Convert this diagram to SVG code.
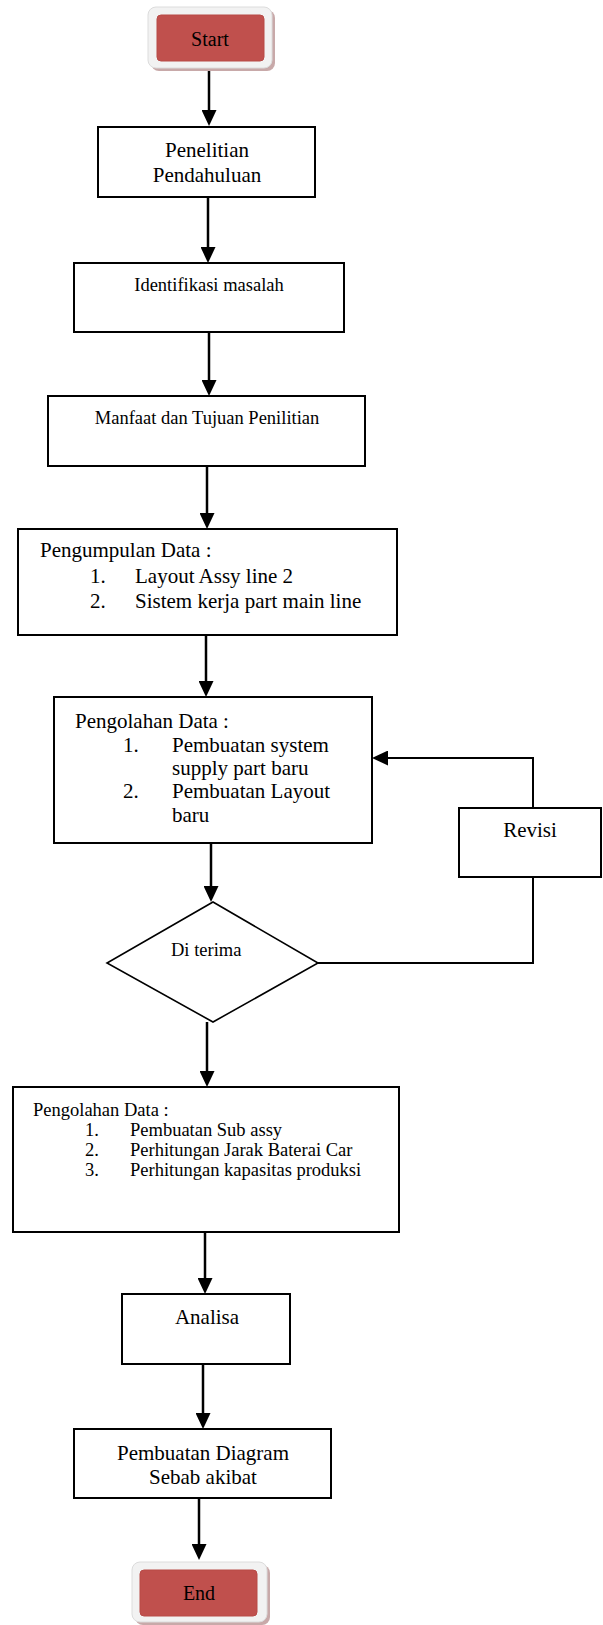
<svg xmlns="http://www.w3.org/2000/svg" width="603" height="1625" viewBox="0 0 603 1625">
<style>
text{font-family:"Liberation Serif","Times New Roman",serif;fill:#000}
.box{fill:#fff;stroke:#000;stroke-width:2}
.dia{fill:#fff;stroke:#000;stroke-width:1.6}
.conn{fill:none;stroke:#000;stroke-width:2.5}
.loop{fill:none;stroke:#000;stroke-width:2}
.shadow{fill:#c8a9a9}
.frame{fill:#f2f2f2;stroke:#dcdcdc;stroke-width:1}
.red{fill:#c0504d;stroke:#b84a47;stroke-width:1}
.f21{font-size:21px}
.f18{font-size:18.5px}
.f20{font-size:20px}
.mid{text-anchor:middle}
</style>
<defs>
<marker id="ah" markerUnits="userSpaceOnUse" viewBox="0 0 16 15" markerWidth="16" markerHeight="15" refX="6" refY="7.5" orient="auto">
<path d="M0,0 L16,7.5 L0,15 z" fill="#000"/>
</marker>
</defs>

<g id="connectors">
<line class="conn" x1="209" y1="68" x2="209" y2="116" marker-end="url(#ah)"/>
<line class="conn" x1="208" y1="197" x2="208" y2="253" marker-end="url(#ah)"/>
<line class="conn" x1="209" y1="332" x2="209" y2="386" marker-end="url(#ah)"/>
<line class="conn" x1="207" y1="466" x2="207" y2="519" marker-end="url(#ah)"/>
<line class="conn" x1="206" y1="635" x2="206" y2="687" marker-end="url(#ah)"/>
<line class="conn" x1="211" y1="843" x2="211" y2="892" marker-end="url(#ah)"/>
<polyline class="loop" points="318,963 533,963 533,877"/>
<polyline class="loop" points="533,808 533,758 382,758" marker-end="url(#ah)"/>
<line class="conn" x1="207" y1="1022" x2="207" y2="1077" marker-end="url(#ah)"/>
<line class="conn" x1="205" y1="1232" x2="205" y2="1284" marker-end="url(#ah)"/>
<line class="conn" x1="203" y1="1364" x2="203" y2="1419" marker-end="url(#ah)"/>
<line class="conn" x1="199" y1="1498" x2="199" y2="1550" marker-end="url(#ah)"/>
</g>

<g id="start">
<rect class="shadow" x="151" y="10" width="124" height="61" rx="8"/>
<rect class="frame" x="148" y="7" width="124" height="61" rx="8"/>
<rect class="red" x="157" y="15" width="107" height="46" rx="4"/>
<text class="f20 mid" x="210" y="46">Start</text>
</g>

<g id="penelitian">
<rect class="box" x="98" y="127" width="217" height="70"/>
<text class="f21 mid" x="207" y="157">Penelitian</text>
<text class="f21 mid" x="207" y="182">Pendahuluan</text>
</g>

<g id="identifikasi">
<rect class="box" x="74" y="263" width="270" height="69"/>
<text class="f18 mid" x="209" y="291">Identifikasi masalah</text>
</g>

<g id="manfaat">
<rect class="box" x="48" y="396" width="317" height="70"/>
<text class="f18 mid" x="207" y="424">Manfaat dan Tujuan Penilitian</text>
</g>

<g id="pengumpulan">
<rect class="box" x="18" y="529" width="379" height="106"/>
<text class="f21" x="40" y="557">Pengumpulan Data :</text>
<text class="f21" x="90" y="583">1.</text>
<text class="f21" x="135" y="583">Layout Assy line 2</text>
<text class="f21" x="90" y="608">2.</text>
<text class="f21" x="135" y="608">Sistem kerja part main line</text>
</g>

<g id="pengolahan1">
<rect class="box" x="54" y="697" width="318" height="146"/>
<text class="f21" x="75" y="728">Pengolahan Data :</text>
<text class="f21" x="123" y="752">1.</text>
<text class="f21" x="172" y="752">Pembuatan system</text>
<text class="f21" x="172" y="775">supply part baru</text>
<text class="f21" x="123" y="798">2.</text>
<text class="f21" x="172" y="798">Pembuatan Layout</text>
<text class="f21" x="172" y="822">baru</text>
</g>

<g id="revisi">
<rect class="box" x="459" y="808" width="142" height="69"/>
<text class="f21 mid" x="530" y="837">Revisi</text>
</g>

<g id="diterima">
<polygon class="dia" points="213,902 318,963 213,1022 107,963"/>
<text class="f18" x="171" y="956">Di terima</text>
</g>

<g id="pengolahan2">
<rect class="box" x="13" y="1087" width="386" height="145"/>
<text class="f18" x="33" y="1116">Pengolahan Data :</text>
<text class="f18" x="85" y="1136">1.</text>
<text class="f18" x="130" y="1136">Pembuatan Sub assy</text>
<text class="f18" x="85" y="1156">2.</text>
<text class="f18" x="130" y="1156">Perhitungan Jarak Baterai Car</text>
<text class="f18" x="85" y="1176">3.</text>
<text class="f18" x="130" y="1176">Perhitungan kapasitas produksi</text>
</g>

<g id="analisa">
<rect class="box" x="122" y="1294" width="168" height="70"/>
<text class="f21 mid" x="207" y="1324">Analisa</text>
</g>

<g id="diagram">
<rect class="box" x="74" y="1429" width="257" height="69"/>
<text class="f21 mid" x="203" y="1460">Pembuatan Diagram</text>
<text class="f21 mid" x="203" y="1484">Sebab akibat</text>
</g>

<g id="end">
<rect class="shadow" x="135" y="1565" width="135" height="60" rx="8"/>
<rect class="frame" x="132" y="1562" width="135" height="60" rx="8"/>
<rect class="red" x="140" y="1570" width="117" height="46" rx="4"/>
<text class="f20 mid" x="199" y="1600">End</text>
</g>
</svg>
